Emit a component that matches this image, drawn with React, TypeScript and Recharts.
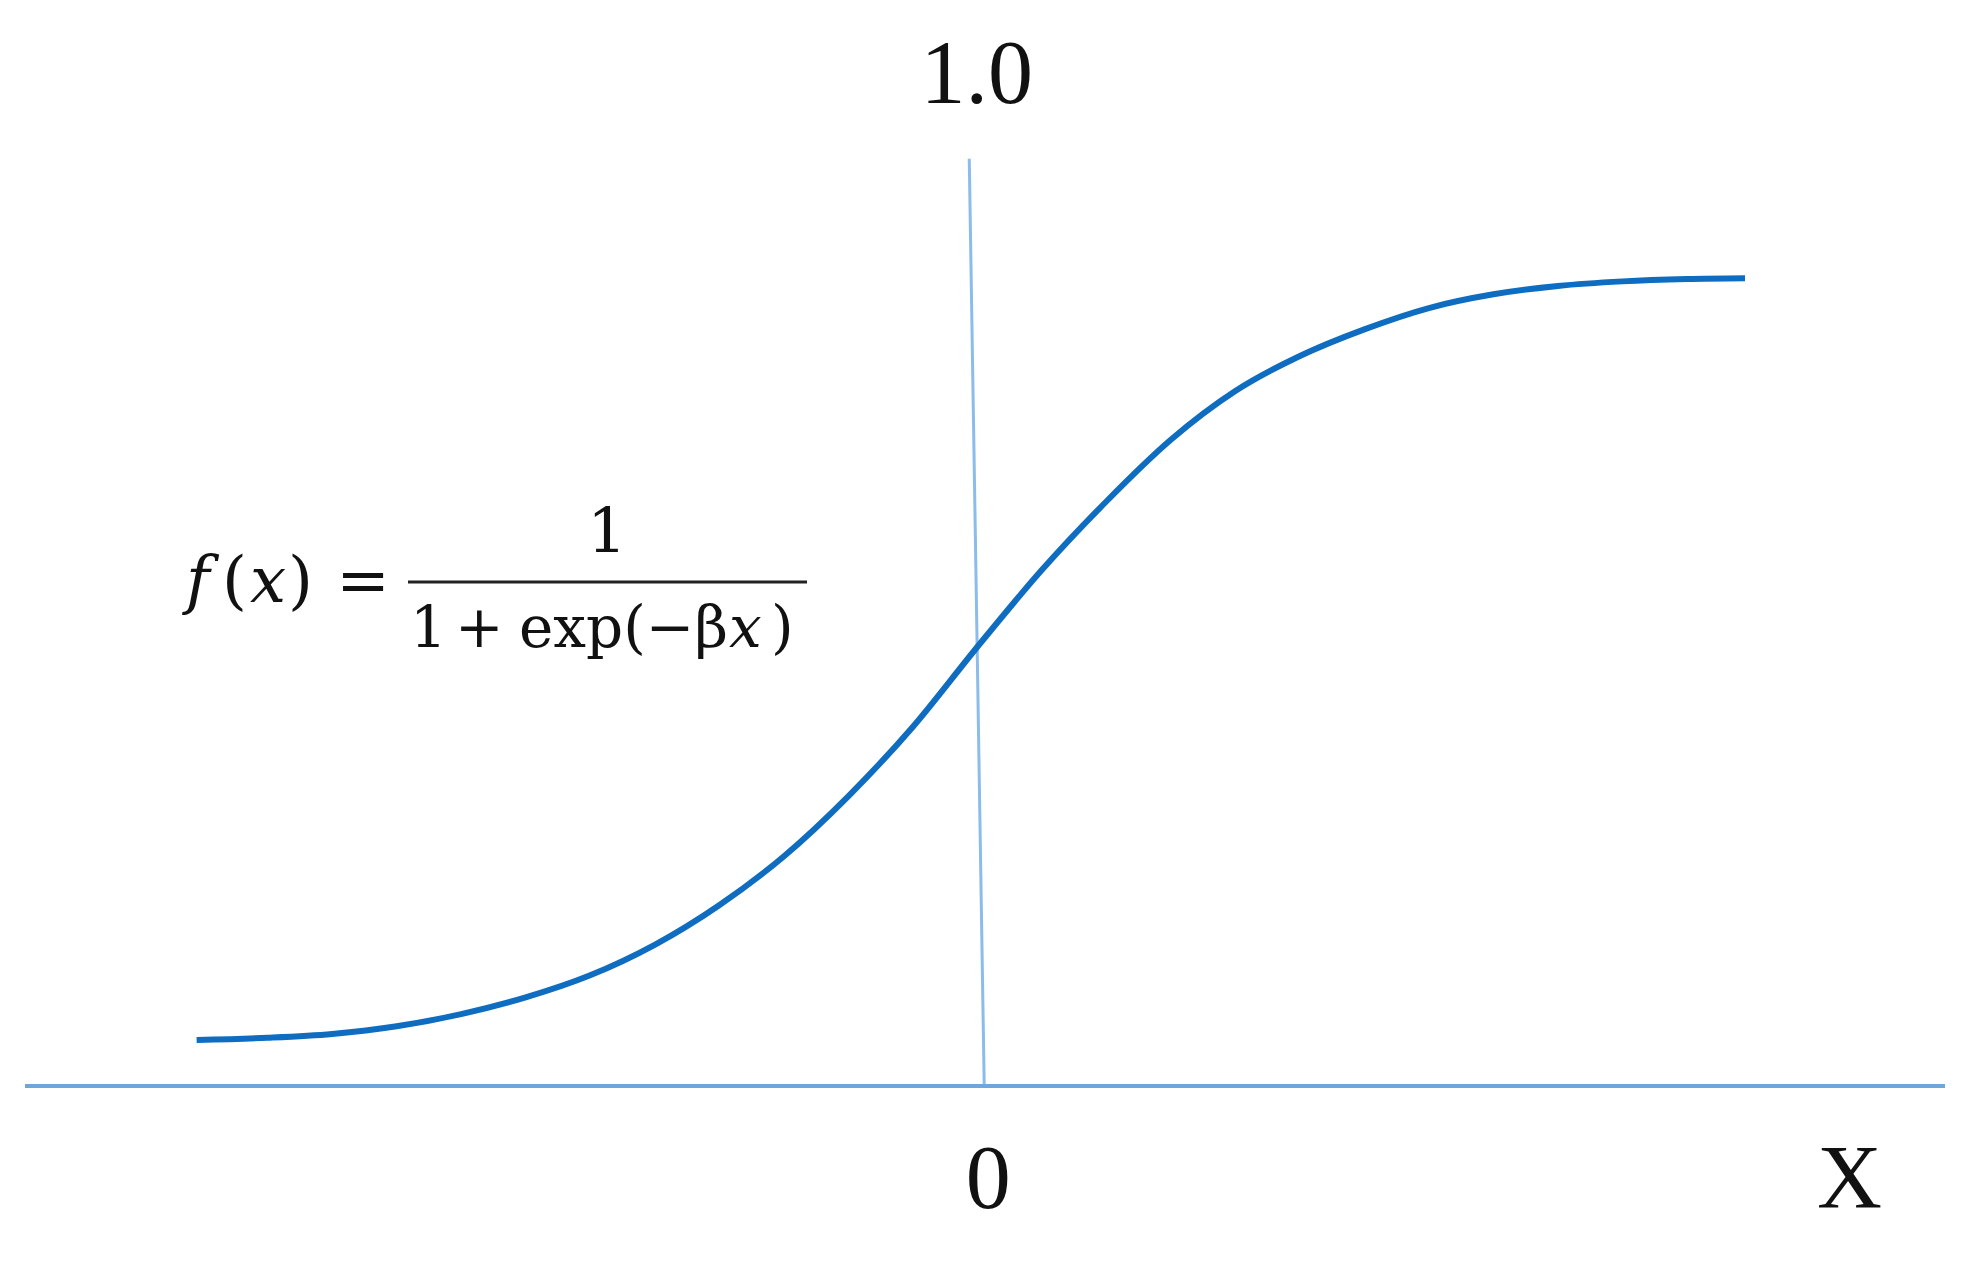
import React from 'react';
import { LineChart, Line, XAxis, YAxis, ReferenceLine, Customized } from 'recharts';

// Sigmoid curve (x in axis units, y in 0..1)
const xValues = [-6.05, -5.5, -5, -4.5, -4, -3.5, -3, -2.5, -2, -1.5, -1, -0.5, 0, 0.5, 1, 1.5, 2, 2.5, 3, 3.5, 4, 4.5, 5, 5.5, 5.95];
const yValues = [0.0, 0.003, 0.008, 0.018, 0.034, 0.056, 0.085, 0.125, 0.177, 0.241, 0.32, 0.411, 0.516, 0.617, 0.707, 0.788, 0.852, 0.898, 0.933, 0.961, 0.979, 0.99, 0.996, 0.999, 1.0];

// Axis labels
const xTickValues = [0.085, 6.76];
const xTickLabels = ['0', 'X'];
const verticalLabel = '1.0';

// Vertical axis (slightly slanted in the original)
const verticalAxisTop = { x: -0.062, y: 1.157 };
const verticalAxisBottom = { x: 0.054, y: -0.0604 };

const xDomain: [number, number] = [-7.38, 7.5];
const yDomain: [number, number] = [-0.0604, 1.2];

const data = xValues.map((x, i) => ({ x, y: yValues[i] }));

const SERIF = '"Liberation Serif", "Times New Roman", serif';
const MATH = '"DejaVu Serif", "Liberation Serif", serif';

const Formula = () => (
  <g fill="#111" fontFamily={MATH}>
    <text y={602} fontSize={64}>
      <tspan x={186} fontStyle="italic">f</tspan>
      <tspan x={222}>(</tspan>
      <tspan x={250} fontStyle="italic">x</tspan>
      <tspan x={288}>)</tspan>
    </text>
    <text x={363} y={602} fontSize={64} textAnchor="middle">=</text>
    <text x={607} y={552} fontSize={62} textAnchor="middle">1</text>
    <line x1={408} y1={582} x2={807} y2={582} stroke="#222" strokeWidth={3} />
    <text y={647} fontSize={58}>
      <tspan x={410}>1</tspan>
      <tspan x={455}>+</tspan>
      <tspan x={519}>exp(−β</tspan>
      <tspan x={729} fontStyle="italic">x</tspan>
      <tspan x={771}>)</tspan>
    </text>
  </g>
);

export default function App() {
  return (
    <div style={{ position: 'absolute', left: 0, top: 0, width: 1984, height: 1264, background: '#fff' }}>
      <LineChart
        width={1984}
        height={1264}
        data={data}
        margin={{ top: 126, right: 39, bottom: 78, left: 25 }}
      >
        <XAxis
          type="number"
          dataKey="x"
          domain={xDomain}
          ticks={xTickValues}
          interval={0}
          tickFormatter={(v: number) => {
            const i = xTickValues.indexOf(v);
            return i >= 0 ? xTickLabels[i] : '';
          }}
          axisLine={{ stroke: '#6FA7DC', strokeWidth: 4 }}
          tickLine={false}
          tickSize={0}
          tickMargin={58}
          height={100}
          tick={{ fill: '#111', fontSize: 90, fontFamily: SERIF }}
        />
        <YAxis type="number" domain={yDomain} hide />
        <ReferenceLine
          segment={[verticalAxisTop, verticalAxisBottom]}
          stroke="#8BBCEA"
          strokeWidth={3}
          ifOverflow="visible"
          label={{ value: verticalLabel, position: 'top', offset: 56, fill: '#111', fontSize: 90, fontFamily: SERIF }}
        />
        <Line
          type="monotone"
          dataKey="y"
          stroke="#0E6DC1"
          strokeWidth={6}
          dot={false}
          activeDot={false}
          isAnimationActive={false}
        />
        <Customized component={<Formula />} />
      </LineChart>
    </div>
  );
}
